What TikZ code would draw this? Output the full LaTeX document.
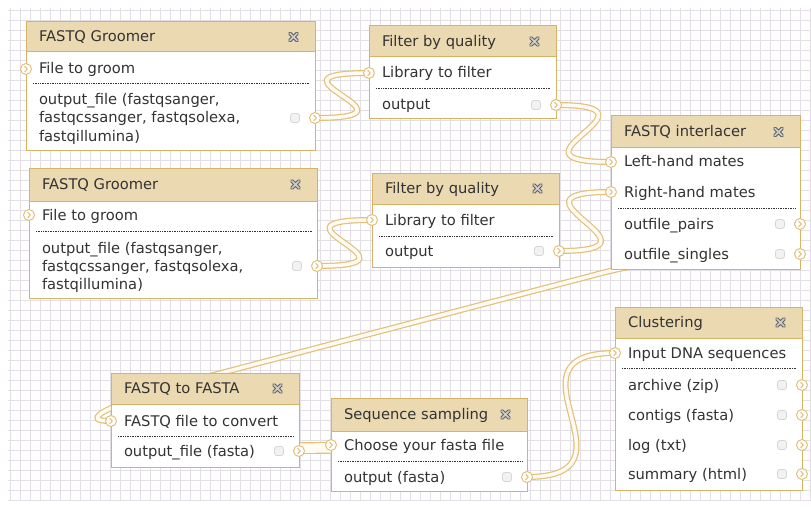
\documentclass[tikz,border=0pt]{standalone}
\usepackage{fontspec}
\setmainfont{DejaVu Sans}
\usetikzlibrary{calc}
\definecolor{boxborder}{HTML}{D8B365}
\definecolor{headbg}{HTML}{EBD9B2}
\definecolor{txt}{HTML}{333333}
\definecolor{gridc}{RGB}{228,223,231}
\definecolor{wirec}{RGB}{226,192,122}
\definecolor{wirein}{RGB}{255,251,242}
\definecolor{xdark}{RGB}{100,100,100}
\definecolor{xlight}{RGB}{205,205,205}
\definecolor{calldraw}{RGB}{214,214,214}
\definecolor{callfill}{RGB}{242,242,242}

\newcommand\toolform[7]{%
  \node[formbox, anchor=north west, minimum width={#4-#2}, minimum height={#5-#3}] (#1) at (#2,#3) {};
  \node[headbox, anchor=north west, minimum width={#4-#2}, minimum height={#6-#3}] (#1h) at (#2,#3) {};
  \node[lbl] (#1t) at ({#2+13},{(#3+#6)/2+5}) {#7};
  \coordinate (#1x) at ({#4-21.5},{(#3+#6)/2});
  \foreach \w/\c in {3.8/xdark,1.5/xlight}
    \draw[draw=\c, line width=\w pt, line cap=round]
      ([shift={(-3.5,-3.5)}]#1x) -- ([shift={(3.5,3.5)}]#1x)
      ([shift={(-3.5,3.5)}]#1x) -- ([shift={(3.5,-3.5)}]#1x);
}
\newcommand\rowtext[4]{\node[lbl] (#1) at ({#2+13},{#3+5}) {#4};}
\newcommand\sepat[3]{\draw[sepline] ({#1+7},#3) -- ({#2-5},#3);}
\newcommand\outterm[1]{%
  \node[callout] (#1C) at ($(#1)+(-20,0)$) {};
  \node[term] (#1T) at (#1) {};}
\newcommand\interm[1]{\node[term] (#1T) at (#1) {};}

\begin{document}
\begin{tikzpicture}[x=1pt,y=-1pt,
  formbox/.style={draw=boxborder, fill=white, line width=1pt, inner sep=0, outer sep=0, rectangle},
  headbox/.style={draw=boxborder, fill=headbg, line width=1pt, inner sep=0, outer sep=0, rectangle},
  lbl/.style={anchor=base west, inner sep=0, outer sep=0, text=txt, font=\fontsize{14.7}{18}\selectfont},
  sepline/.style={draw=txt, line width=0.8pt, dash pattern=on 0.8pt off 0.9pt},
  wire/.style={draw=wirein, line width=3.6pt, preaction={draw=wirec, line width=6pt}},
  term/.style={circle, draw=wirec, fill=white, line width=1pt, minimum size=11pt, inner sep=0,
    path picture={\draw[wirec, line width=1pt, line cap=round, line join=round]
      ([shift={(-1.3,-2.6)}]path picture bounding box.center) -- ++(2.6,2.6) -- ++(-2.6,2.6);}},
  callout/.style={draw=calldraw, fill=callfill, line width=0.8pt, rounded corners=2.5pt,
    minimum size=9pt, inner sep=0, rectangle}
]
\useasboundingbox (0,0) rectangle (811,508);
\fill[white] (0,0) rectangle (811,508);
\foreach \x in {10,20,...,810} \draw[gridc, line width=0.8pt] (\x,8) -- (\x,500);
\foreach \y in {10,20,...,500} \draw[gridc, line width=0.8pt] (8,\y) -- (811,\y);

% terminal coordinates
\coordinate (g1i) at (26,69);   \coordinate (g1o) at (315,118);
\coordinate (f1i) at (369,73);  \coordinate (f1o) at (556,105);
\coordinate (ili1) at (611,162); \coordinate (ili2) at (611,192);
\coordinate (ilo1) at (800,224); \coordinate (ilo2) at (800,254);
\coordinate (g2i) at (29,215);  \coordinate (g2o) at (317,266);
\coordinate (f2i) at (372,220); \coordinate (f2o) at (559,251);
\coordinate (ffi) at (111,421); \coordinate (ffo) at (299,451);
\coordinate (ssi) at (331,445); \coordinate (sso) at (527,477);
\coordinate (cli) at (615,353);
\coordinate (clo1) at (802,385); \coordinate (clo2) at (802,415);
\coordinate (clo3) at (802,445); \coordinate (clo4) at (802,474);

% wires
\draw[wire] (g1o) .. controls +(120,0) and +(-120,0) .. (f1i);
\draw[wire] (f1o) .. controls +(120,0) and +(-120,0) .. (ili1);
\draw[wire] (g2o) .. controls +(120,0) and +(-120,0) .. (f2i);
\draw[wire] (f2o) .. controls +(120,0) and +(-120,0) .. (ili2);
\draw[wire] (ilo2) .. controls (740,254) and (660,258) .. (602,273) -- (225,372)
  .. controls (125,398) and (70,421) .. (ffi);
\draw[wire] (ffo) .. controls +(120,0) and +(-120,0) .. (ssi);
\draw[wire] (sso) .. controls +(120,0) and +(-120,0) .. (cli);

% FASTQ Groomer 1
\toolform{g1}{26}{22}{315}{151}{52}{FASTQ Groomer}
\rowtext{g1r1}{26}{69}{File to groom}
\sepat{26}{315}{83}
\rowtext{g1r2}{26}{100}{output\_file (fastqsanger,}
\rowtext{g1r3}{26}{118}{fastqcssanger, fastqsolexa,}
\rowtext{g1r4}{26}{137}{fastqillumina)}
\interm{g1i}\outterm{g1o}

% Filter by quality 1
\toolform{f1}{369}{26}{556}{119}{57}{Filter by quality}
\rowtext{f1r1}{369}{73}{Library to filter}
\sepat{369}{556}{88}
\rowtext{f1r2}{369}{105}{output}
\interm{f1i}\outterm{f1o}

% FASTQ interlacer
\toolform{il}{611}{116}{800}{269}{148}{FASTQ interlacer}
\rowtext{ilr1}{611}{162}{Left-hand mates}
\rowtext{ilr2}{611}{192}{Right-hand mates}
\sepat{611}{800}{208}
\rowtext{ilr3}{611}{224}{outfile\_pairs}
\rowtext{ilr4}{611}{254}{outfile\_singles}
\interm{ili1}\interm{ili2}\outterm{ilo1}\outterm{ilo2}

% FASTQ Groomer 2
\toolform{g2}{29}{168}{317}{298}{201}{FASTQ Groomer}
\rowtext{g2r1}{29}{215}{File to groom}
\sepat{29}{317}{231}
\rowtext{g2r2}{29}{248}{output\_file (fastqsanger,}
\rowtext{g2r3}{29}{266}{fastqcssanger, fastqsolexa,}
\rowtext{g2r4}{29}{284}{fastqillumina)}
\interm{g2i}\outterm{g2o}

% Filter by quality 2
\toolform{f2}{372}{173}{559}{267}{204}{Filter by quality}
\rowtext{f2r1}{372}{220}{Library to filter}
\sepat{372}{559}{236}
\rowtext{f2r2}{372}{251}{output}
\interm{f2i}\outterm{f2o}

% FASTQ to FASTA
\toolform{ff}{111}{373}{299}{467}{404}{FASTQ to FASTA}
\rowtext{ffr1}{111}{421}{FASTQ file to convert}
\sepat{111}{299}{436}
\rowtext{ffr2}{111}{451}{output\_file (fasta)}
\interm{ffi}\outterm{ffo}

% Sequence sampling
\toolform{ss}{331}{398}{527}{491}{431}{Sequence sampling}
\rowtext{ssr1}{331}{445}{Choose your fasta file}
\sepat{331}{527}{461}
\rowtext{ssr2}{331}{477}{output (fasta)}
\interm{ssi}\outterm{sso}

% Clustering
\toolform{cl}{615}{307}{802}{490}{338}{Clustering}
\rowtext{clr1}{615}{353}{Input DNA sequences}
\sepat{615}{802}{368}
\rowtext{clr2}{615}{385}{archive (zip)}
\rowtext{clr3}{615}{415}{contigs (fasta)}
\rowtext{clr4}{615}{445}{log (txt)}
\rowtext{clr5}{615}{474}{summary (html)}
\interm{cli}\outterm{clo1}\outterm{clo2}\outterm{clo3}\outterm{clo4}
\end{tikzpicture}
\end{document}
